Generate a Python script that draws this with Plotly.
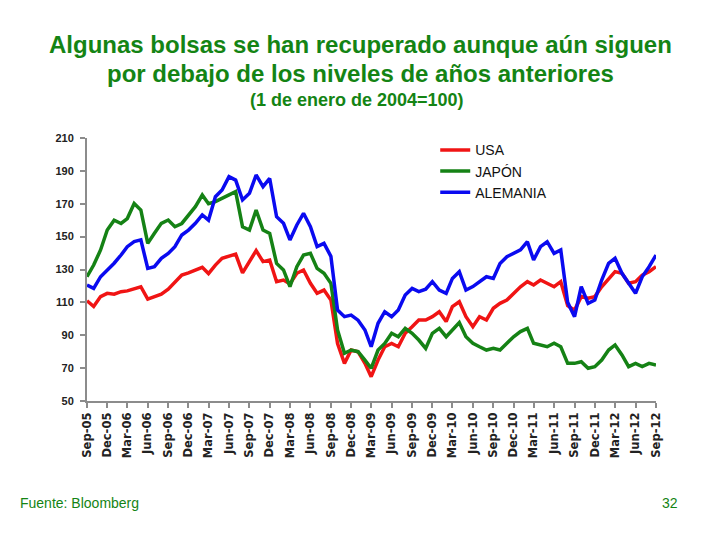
import pandas as pd
import plotly.graph_objects as go

# monthly readings, Sep-05 .. Sep-12 (index, 1 Jan 2004 = 100)
meses = pd.date_range("2005-09-01", periods=85, freq="MS")

usa = [111, 107.5, 113.5, 115.5, 115, 116.5, 117, 118, 119.5, 112, 113.5, 115, 118,
       122.6, 126.6, 128, 129.7, 131.3, 127.5,
       132.7, 136.8, 138.2, 139.4, 128, 134.8, 141.5, 134.8, 135.8, 122.6, 123.6, 121.2,
       127.7, 129.7, 121.6, 115.5, 117.5, 111.4,
       85, 72.9, 81, 80, 72.9, 64.8, 74.9, 83, 85, 83, 91.2, 95.2, 99.3, 99.3, 101.3,
       104.3, 98.3,
       107.4, 110.4, 101.3, 95.2, 101.3, 99.3, 106.4, 109.4, 111.4, 115.5, 119.5, 122.6,
       120.6, 123.6, 121.6, 119.5, 122.6, 108,
       105.3, 113.5, 112.5, 113.5, 119.5, 124.6, 128.7, 127.7, 121.6, 122.6, 126.6, 128.7, 131.7]

japon = [125.6, 132.7, 141.9, 154, 160, 158, 161, 170.2, 166.2, 145.9, 152, 158.1, 160.1,
         156, 158, 163.2, 168.2, 175.3, 170,
         171.3, 173.3, 175.3, 177.4, 156, 154, 166.2, 154, 152, 133.7, 129.7, 119.6,
         131.7, 138.8, 139.8, 130.7, 127.7, 121.6,
         93.2, 79, 81, 80, 74.9, 69.9, 81, 85, 91.2, 89.1, 94.2, 91.2, 87.1, 82, 91.2,
         94.2, 89.1,
         93.2, 97.7, 89.1, 85.1, 83, 81, 82, 81, 85.1, 89.1, 92.2, 94.2, 85.1, 84.1, 83,
         85.1, 83, 72.9,
         72.9, 73.9, 69.9, 70.9, 74.9, 81, 84.1, 78, 70.9, 72.9, 70.9, 72.9, 71.9]

alemania = [120.6, 118.5, 125.6, 129.7, 133.8, 138.8, 143.9, 147, 148, 130.7, 131.7, 136.8,
            139.8, 143.9, 151, 154, 158.1, 163.2, 160,
            174.3, 178.4, 186.5, 184.4, 172.3, 176.3, 187.5, 180.4, 185.4, 162.1, 158.1, 148,
            157.1, 164.2, 156, 143.9, 145.9, 138,
            105.3, 101.3, 102.3, 99.2, 93.2, 83, 97.3, 104.3, 101.3, 105.3, 114.5, 118.5,
            116.5, 118, 122.6, 117.5, 115.5,
            124.6, 128.7, 117.5, 119.6, 122.6, 125.6, 124.6, 133.7, 137.8, 139.8, 141.9,
            146.9, 135.8, 143.9, 146.9, 139.8, 141.9, 110,
            101.3, 119.6, 109.4, 111.4, 123.6, 133.7, 136.8, 127.7, 121.6, 115.5, 125.6,
            131.7, 138.8]

series = [("USA", usa, "#f01414"), ("JAPÓN", japon, "#158215"), ("ALEMANIA", alemania, "#0a0af0")]
verde = "#148414"

fig = go.Figure()
for nombre, vals, col in series:
    fig.add_trace(go.Scatter(x=meses, y=vals, name=nombre, mode="lines",
                             line=dict(color=col, width=3.5)))

ticks = pd.date_range("2005-09-01", "2012-09-01", freq="3MS")

# page body has an 8px margin, so the figure is 712x532 and margins are offset by 8
fig.update_layout(
    width=712, height=532,
    margin=dict(l=79, r=64, t=130, b=139),
    paper_bgcolor="white", plot_bgcolor="white",
    font=dict(family="Liberation Sans, Arial", color="#222"),
    showlegend=True,
    legend=dict(x=0.612, y=1.014, xanchor="left", yanchor="top",
                font=dict(size=14, color="#111", family="Liberation Sans, Arial"),
                bgcolor="rgba(0,0,0,0)", tracegroupgap=0),
    xaxis=dict(range=[ticks[0], ticks[-1]], tickvals=ticks,
               ticktext=[d.strftime("%b-%y") for d in ticks],
               tickangle=-90, tickfont=dict(size=11.5, family="DejaVu Sans", weight="bold", color="#222"),
               showline=True, linecolor="#8c8c8c", linewidth=2,
               ticks="outside", ticklen=5, tickcolor="#8c8c8c", tickwidth=1.5,
               showgrid=False, zeroline=False),
    yaxis=dict(range=[50, 210], tickvals=list(range(50, 211, 20)),
               tickfont=dict(size=11, weight="bold", color="#222"),
               ticklabelstandoff=4,
               showline=True, linecolor="#8c8c8c", linewidth=2,
               ticks="outside", ticklen=5, tickcolor="#8c8c8c", tickwidth=1.5,
               showgrid=False, zeroline=False),
)

fig.add_annotation(text="<b>Algunas bolsas se han recuperado aunque aún siguen</b>",
                   x=0.48, y=1.354, xref="paper", yref="paper", yanchor="middle", showarrow=False,
                   font=dict(size=24, color=verde))
fig.add_annotation(text="<b>por debajo de los niveles de años anteriores</b>",
                   x=0.48, y=1.247, xref="paper", yref="paper", yanchor="middle", showarrow=False,
                   font=dict(size=24, color=verde))
fig.add_annotation(text="<b>(1 de enero de 2004=100)</b>",
                   x=0.475, y=1.144, xref="paper", yref="paper", yanchor="middle", showarrow=False,
                   font=dict(size=18, color=verde))
fig.add_annotation(text="Fuente: Bloomberg", x=-0.121, y=-0.388, xref="paper", yref="paper",
                   xanchor="left", yanchor="middle", showarrow=False, font=dict(size=14, color=verde))
fig.add_annotation(text="32", x=1.042, y=-0.388, xref="paper", yref="paper",
                   xanchor="right", yanchor="middle", showarrow=False, font=dict(size=14, color=verde))

fig.write_html("out.html")
